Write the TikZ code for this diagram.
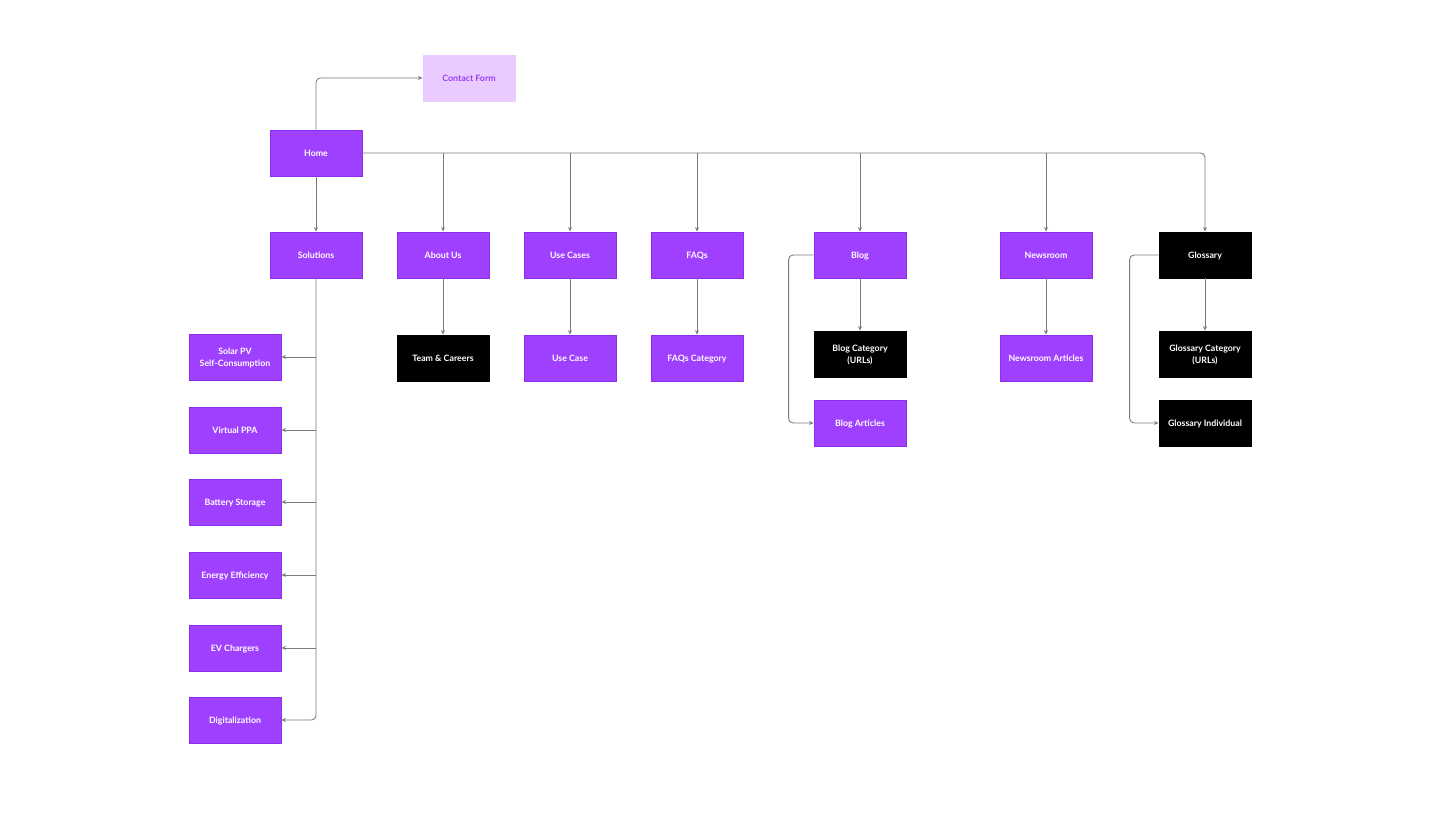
\documentclass[tikz,border=0pt]{standalone}
\usepackage{fontspec}
\setmainfont{Lato}
\usetikzlibrary{arrows.meta}
\definecolor{pagepurple}{HTML}{A040FF}
\definecolor{pageedge}{HTML}{8C2EEB}
\definecolor{formfill}{HTML}{E9CBFF}
\definecolor{formtext}{HTML}{9A3CF2}
\definecolor{linkgray}{HTML}{7A7A7A}
\begin{document}
\begin{tikzpicture}[x=0.02cm, y=-0.02cm,
    page/.style={rectangle, draw=pageedge, fill=pagepurple, text=white,
      minimum width=1.84cm, minimum height=0.92cm, inner sep=1pt, align=center,
      text depth=0pt, font=\fontsize{5}{6.6}\selectfont\bfseries},
    black page/.style={page, draw=black, fill=black},
    form page/.style={page, draw=formfill, fill=formfill, text=formtext},
    link/.style={draw=linkgray, line width=0.5pt, rounded corners=2.5pt,
      -{Stealth[length=2.6pt, width=2.2pt]}} ]
    \useasboundingbox (0,0) rectangle (1456,820);
    % top level
    \node at (469,78) [form page] (contact) {Contact Form};
    \node at (316,153) [page] (home) {Home};
    % second level
    \node at (316,255) [page] (solutions) {Solutions};
    \node at (443,255) [page] (about) {About Us};
    \node at (570,255) [page] (usecases) {Use Cases};
    \node at (697,255) [page] (faqs) {FAQs};
    \node at (860,255) [page] (blog) {Blog};
    \node at (1046,255) [page] (newsroom) {Newsroom};
    \node at (1205,255) [black page] (glossary) {Glossary};
    % third level
    \node at (443,358) [black page] (team) {Team \& Careers};
    \node at (570,358) [page] (usecase) {Use Case};
    \node at (697,358) [page] (faqcat) {FAQs Category};
    \node at (860,354) [black page] (blogcat) {Blog Category\\(URLs)};
    \node at (860,423) [page] (blogart) {Blog Articles};
    \node at (1046,358) [page] (newsart) {Newsroom Articles};
    \node at (1205,354) [black page] (glosscat) {Glossary Category\\(URLs)};
    \node at (1205,423) [black page] (glossind) {Glossary Individual};
    % solutions
    \node at (235,357) [page] (solar) {Solar PV\\Self-Consumption};
    \node at (235,430) [page] (vppa) {Virtual PPA};
    \node at (235,502) [page] (battery) {Battery Storage};
    \node at (235,575) [page] (efficiency) {Energy Efficiency};
    \node at (235,648) [page] (ev) {EV Chargers};
    \node at (235,720) [page] (digital) {Digitalization};
    % links
    \draw [link] (home.north) |- (contact.west);
    \draw [link] (home.east) -| (glossary.north);
    \foreach \n in {about, usecases, faqs, blog, newsroom}
      \draw [link] (home.east -| \n.north) -- (\n.north);
    \draw [link] (home.south) -- (solutions.north);
    \draw [link] (about.south) -- (team.north);
    \draw [link] (usecases.south) -- (usecase.north);
    \draw [link] (faqs.south) -- (faqcat.north);
    \draw [link] (blog.south) -- (blogcat.north);
    \draw [link] (newsroom.south) -- (newsart.north);
    \draw [link] (glossary.south) -- (glosscat.north);
    \draw [link] (blog.west) -- ++(-25,0) |- (blogart.west);
    \draw [link] (glossary.west) -- ++(-29,0) |- (glossind.west);
    \draw [link] (solutions.south) |- (digital.east);
    \foreach \n in {solar, vppa, battery, efficiency, ev}
      \draw [link] (solutions.south |- \n.east) -- (\n.east);
\end{tikzpicture}
\end{document}
